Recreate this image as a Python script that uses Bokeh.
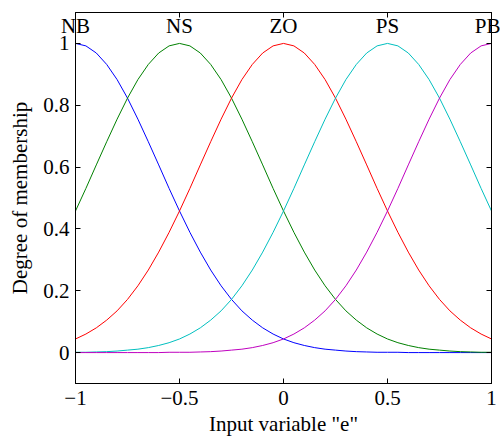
from bokeh.plotting import figure
from bokeh.models import LinearAxis, FixedTicker, CustomJSTickFormatter
from bokeh.embed import file_html
from bokeh.resources import INLINE

# ---- data ----
x = [-1.00, -0.95, -0.90, -0.85, -0.80, -0.75, -0.70, -0.65, -0.60, -0.55,
     -0.50, -0.45, -0.40, -0.35, -0.30, -0.25, -0.20, -0.15, -0.10, -0.05,
     0.00, 0.05, 0.10, 0.15, 0.20, 0.25, 0.30, 0.35, 0.40, 0.45,
     0.50, 0.55, 0.60, 0.65, 0.70, 0.75, 0.80, 0.85, 0.90, 0.95, 1.00]

NB = [1.000, 0.992, 0.969, 0.932, 0.883, 0.823, 0.755, 0.682, 0.607, 0.531,
      0.458, 0.389, 0.325, 0.267, 0.216, 0.172, 0.135, 0.105, 0.080, 0.060,
      0.044, 0.032, 0.023, 0.016, 0.011, 0.008, 0.005, 0.003, 0.002, 0.001,
      0.001, 0.001, 0.000, 0.000, 0.000, 0.000, 0.000, 0.000, 0.000, 0.000, 0.000]

NS = [0.458, 0.531, 0.607, 0.682, 0.755, 0.823, 0.883, 0.932, 0.969, 0.992,
      1.000, 0.992, 0.969, 0.932, 0.883, 0.823, 0.755, 0.682, 0.607, 0.531,
      0.458, 0.389, 0.325, 0.267, 0.216, 0.172, 0.135, 0.105, 0.080, 0.060,
      0.044, 0.032, 0.023, 0.016, 0.011, 0.008, 0.005, 0.003, 0.002, 0.001, 0.001]

ZO = [0.044, 0.060, 0.080, 0.105, 0.135, 0.172, 0.216, 0.267, 0.325, 0.389,
      0.458, 0.531, 0.607, 0.682, 0.755, 0.823, 0.883, 0.932, 0.969, 0.992,
      1.000, 0.992, 0.969, 0.932, 0.883, 0.823, 0.755, 0.682, 0.607, 0.531,
      0.458, 0.389, 0.325, 0.267, 0.216, 0.172, 0.135, 0.105, 0.080, 0.060, 0.044]

PS = [0.001, 0.001, 0.002, 0.003, 0.005, 0.008, 0.011, 0.016, 0.023, 0.032,
      0.044, 0.060, 0.080, 0.105, 0.135, 0.172, 0.216, 0.267, 0.325, 0.389,
      0.458, 0.531, 0.607, 0.682, 0.755, 0.823, 0.883, 0.932, 0.969, 0.992,
      1.000, 0.992, 0.969, 0.932, 0.883, 0.823, 0.755, 0.682, 0.607, 0.531, 0.458]

PB = [0.000, 0.000, 0.000, 0.000, 0.000, 0.000, 0.000, 0.000, 0.000, 0.001,
      0.001, 0.001, 0.002, 0.003, 0.005, 0.008, 0.011, 0.016, 0.023, 0.032,
      0.044, 0.060, 0.080, 0.105, 0.135, 0.172, 0.216, 0.267, 0.325, 0.389,
      0.458, 0.531, 0.607, 0.682, 0.755, 0.823, 0.883, 0.932, 0.969, 0.992, 1.000]

set_names = ["NB", "NS", "ZO", "PS", "PB"]
set_centers = [-1.0, -0.5, 0.0, 0.5, 1.0]
series = [NB, NS, ZO, PS, PB]
colors = ["#0000ff", "#008000", "#ff0000", "#00bfbf", "#bf00bf"]

x_ticks = [-1, -0.5, 0, 0.5, 1]
y_ticks = [0, 0.2, 0.4, 0.6, 0.8, 1]

FONT = "Liberation Serif"
FS = "21px"

p = figure(width=500, height=438, x_range=(-1, 1), y_range=(-0.1, 1.1),
           output_backend="svg", toolbar_location=None,
           min_border_left=75, min_border_right=9, min_border_top=12,
           min_border_bottom=55)
p.background_fill_color = "white"
p.border_fill_color = "white"
p.grid.visible = False
p.outline_line_color = "black"
p.outline_line_width = 1

for ys, c in zip(series, colors):
    p.line(x, ys, line_color=c, line_width=1)

xfmt = CustomJSTickFormatter(code="return tick < 0 ? '\u2212' + String(-tick) : String(tick);")

def style(ax, ticks):
    ax.ticker = FixedTicker(ticks=ticks)
    ax.major_tick_in = 5
    ax.major_tick_out = 0
    ax.minor_tick_line_color = None
    ax.major_tick_line_color = "black"
    ax.axis_line_color = "black"
    ax.axis_line_width = 1
    ax.major_label_text_font = FONT
    ax.major_label_text_font_size = FS
    ax.major_label_text_color = "black"
    ax.axis_label_text_font = FONT
    ax.axis_label_text_font_size = FS
    ax.axis_label_text_font_style = "normal"
    ax.axis_label_text_color = "black"

xa = p.xaxis[0]
style(xa, x_ticks)
xa.formatter = xfmt
xa.axis_label = 'Input variable "e"'
xa.major_label_standoff = 7
xa.axis_label_standoff = 4

ya = p.yaxis[0]
style(ya, y_ticks)
ya.axis_label = "Degree of membership"
ya.major_label_standoff = 6
ya.axis_label_standoff = 8

# top axis: ticks plus the fuzzy-set names, drawn into the frame
top = LinearAxis()
style(top, set_centers)
top.formatter = CustomJSTickFormatter(args=dict(names=set_names),
                                      code="return names[index];")
top.major_label_standoff = -25
p.add_layout(top, "above")

blank = CustomJSTickFormatter(code="return '';")
right = LinearAxis()
style(right, y_ticks)
right.formatter = blank
right.major_label_standoff = 0
right.major_label_text_font_size = "1px"
p.add_layout(right, "right")

open("out.html", "w").write(file_html(p, INLINE))
